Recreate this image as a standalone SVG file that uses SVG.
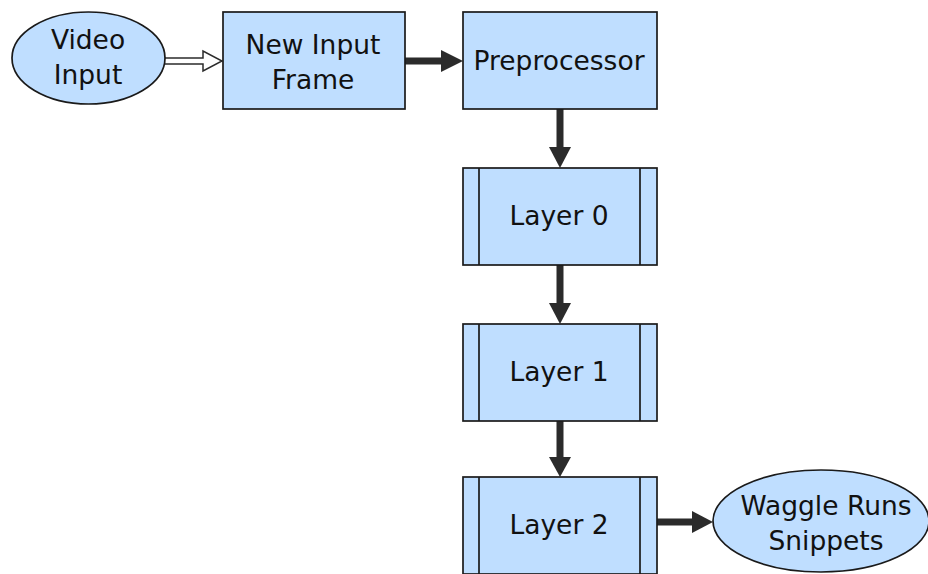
<svg xmlns="http://www.w3.org/2000/svg" width="928" height="574" viewBox="0 0 928 574">
<style>
.n{fill:#bfdeff;stroke:#1a1a1a;stroke-width:1.7}
.t{font-family:"DejaVu Sans",Verdana,sans-serif;font-size:26.5px;fill:#111;text-anchor:middle}
.c{stroke:#2b2b2b;stroke-width:7;fill:none}
.h{fill:#2b2b2b}
</style>
<rect width="928" height="574" fill="#fff"/>
<g id="connectors">
<path d="M165,58 H203 V51 L222,61 L203,71 V64 H165" fill="#fff" stroke="#2b2b2b" stroke-width="1.5"/>
<line class="c" x1="405" y1="61" x2="442" y2="61"/>
<polygon class="h" points="441,50 463,61 441,72"/>
<line class="c" x1="560" y1="109" x2="560" y2="148"/>
<polygon class="h" points="549,147 560,168 571,147"/>
<line class="c" x1="560" y1="265" x2="560" y2="304"/>
<polygon class="h" points="549,303 560,324 571,303"/>
<line class="c" x1="560" y1="421" x2="560" y2="458"/>
<polygon class="h" points="549,457 560,477 571,457"/>
<line class="c" x1="657" y1="522" x2="693" y2="522"/>
<polygon class="h" points="692,511 713,522 692,533"/>
</g>
<g id="video-input">
<ellipse class="n" cx="88.5" cy="58" rx="76.5" ry="46"/>
<text class="t" x="88" y="49">Video</text>
<text class="t" x="88" y="84">Input</text>
</g>
<g id="new-input-frame">
<rect class="n" x="223" y="12" width="182" height="97"/>
<text class="t" x="313" y="54">New Input</text>
<text class="t" x="313" y="89">Frame</text>
</g>
<g id="preprocessor">
<rect class="n" x="463" y="12" width="194" height="97"/>
<text class="t" x="559" y="70">Preprocessor</text>
</g>
<g id="layer-0">
<rect class="n" x="463" y="168" width="194" height="97"/>
<line class="n" x1="479" y1="168" x2="479" y2="265"/>
<line class="n" x1="640" y1="168" x2="640" y2="265"/>
<text class="t" x="559" y="225">Layer 0</text>
</g>
<g id="layer-1">
<rect class="n" x="463" y="324" width="194" height="97"/>
<line class="n" x1="479" y1="324" x2="479" y2="421"/>
<line class="n" x1="640" y1="324" x2="640" y2="421"/>
<text class="t" x="559" y="381">Layer 1</text>
</g>
<g id="layer-2">
<rect class="n" x="463" y="477" width="194" height="97"/>
<line class="n" x1="479" y1="477" x2="479" y2="574"/>
<line class="n" x1="640" y1="477" x2="640" y2="574"/>
<text class="t" x="559" y="534">Layer 2</text>
</g>
<g id="waggle-runs-snippets">
<ellipse class="n" cx="821" cy="521" rx="108" ry="51"/>
<text class="t" x="826" y="515">Waggle Runs</text>
<text class="t" x="826" y="550">Snippets</text>
</g>
</svg>
